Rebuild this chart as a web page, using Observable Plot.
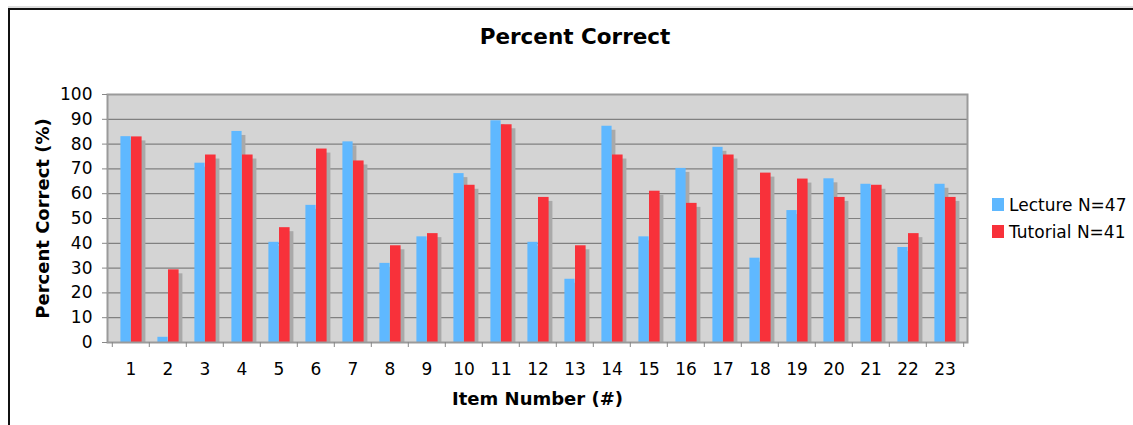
<!DOCTYPE html>
<html>
<head>
<meta charset="utf-8">
<script src="https://cdn.jsdelivr.net/npm/d3@7"></script>
<script src="https://cdn.jsdelivr.net/npm/@observablehq/plot@0.6"></script>
<style>
  html, body { margin: 0; padding: 0; background: white; }
  #wrap { position: relative; width: 1133px; height: 425px; overflow: hidden; font-family: "DejaVu Sans", Verdana, sans-serif; }
  #chart { position: absolute; left: 0; top: 0; }
  #frame { position: absolute; left: 8px; top: 8px; width: 1200px; height: 500px; border-left: 2px solid #111; border-top: 2px solid #111; box-sizing: border-box; }
  #frame2 { position: absolute; left: 8px; top: 6px; width: 1200px; height: 2px; background: #dedede; }
  #title { position: absolute; left: 375px; width: 400px; top: 25.5px; text-align: center; font-size: 21.5px; line-height: 22px; font-weight: bold; color: #000; }
  .lg-sw { position: absolute; width: 12.5px; height: 13px; }
  .lg-tx { position: absolute; font-size: 17px; line-height: 17px; color: #000; white-space: nowrap; }
</style>
</head>
<body>
<div id="wrap">
  <div id="chart"></div>
  <div id="frame2"></div>
  <div id="frame"></div>
  <div id="title"></div>
  <div id="legend"></div>
</div>
<script>
const titleText = "Percent Correct";
const xTitle = "Item Number (#)";
const yTitle = "Percent Correct (%)";
const items = [1, 2, 3, 4, 5, 6, 7, 8, 9, 10, 11, 12, 13, 14, 15, 16, 17, 18, 19, 20, 21, 22, 23];
const seriesNames = ["Lecture N=47", "Tutorial N=41"];
const seriesColors = ["#5fb8ff", "#f8313a"];
const lecture = [83.0, 2.1, 72.3, 85.1, 40.4, 55.3, 80.9, 31.9, 42.6, 68.1, 89.4, 40.4, 25.5, 87.2, 42.6, 70.2, 78.7, 34.0, 53.2, 66.0, 63.8, 38.3, 63.8];
const tutorial = [82.9, 29.3, 75.6, 75.6, 46.3, 78.0, 73.2, 39.0, 43.9, 63.4, 87.8, 58.5, 39.0, 75.6, 61.0, 56.1, 75.6, 68.3, 65.9, 58.5, 63.4, 43.9, 58.5];
const yTicks = [0, 10, 20, 30, 40, 50, 60, 70, 80, 90, 100];

const lec = items.map((d, i) => ({item: d, value: lecture[i]}));
const tut = items.map((d, i) => ({item: d, value: tutorial[i]}));

const lecInset = {insetLeft: 8.4, insetRight: 18.4};
const tutInset = {insetLeft: 19, insetRight: 7.4};
const shadow = "#a9a9a9";
const halfBand = 860 / 23 / 2;

const chart = Plot.plot({
  width: 1133,
  height: 425,
  marginLeft: 107,
  marginRight: 166,
  marginTop: 94,
  marginBottom: 83,
  style: {fontFamily: "DejaVu Sans, Verdana, sans-serif", color: "#000", background: "transparent"},
  x: {type: "band", domain: items, padding: 0},
  y: {domain: [0, 100]},
  marks: [
    Plot.frame({fill: "#d4d4d4"}),
    Plot.gridY(yTicks.slice(1, -1), {stroke: "#808080", strokeOpacity: 1, strokeWidth: 1.2}),
    Plot.barY(lec, {x: "item", y: "value", fill: shadow, dx: 3.8, insetTop: 4, ...lecInset}),
    Plot.barY(tut, {x: "item", y: "value", fill: shadow, dx: 3.8, insetTop: 4, ...tutInset}),
    Plot.barY(lec, {x: "item", y: "value", fill: seriesColors[0], ...lecInset}),
    Plot.barY(tut, {x: "item", y: "value", fill: seriesColors[1], ...tutInset}),
    Plot.frame({stroke: "#9a9a9a", strokeWidth: 2}),
    Plot.axisY({ticks: yTicks, tickSize: 5, tickPadding: 10, fontSize: 17, stroke: "#888", color: "#000", label: null}),
    Plot.axisX({ticks: items, tickSize: 5, stroke: "#888", dx: -halfBand, tickFormat: () => "", label: null}),
    Plot.axisX({ticks: [items[items.length - 1]], tickSize: 5, stroke: "#888", dx: halfBand, tickFormat: () => "", label: null}),
    Plot.axisX({ticks: items, tickSize: 0, tickPadding: 20, fontSize: 17, color: "#000", label: null}),
    Plot.text([yTitle], {frameAnchor: "left", textAnchor: "middle", text: d => d, rotate: -90, dx: -64.5, fontSize: 18, fontWeight: "bold"}),
    Plot.text([xTitle], {frameAnchor: "bottom", textAnchor: "middle", text: d => d, dy: 62, fontSize: 18, fontWeight: "bold"})
  ]
});
document.getElementById("chart").appendChild(chart);
document.getElementById("title").textContent = titleText;

const legend = document.getElementById("legend");
const swTops = [198, 224.5];
const txTops = [197, 224];
seriesNames.forEach((name, i) => {
  const sw = document.createElement("div");
  sw.className = "lg-sw";
  sw.style.left = "991.7px";
  sw.style.top = swTops[i] + "px";
  sw.style.background = seriesColors[i];
  legend.appendChild(sw);
  const tx = document.createElement("div");
  tx.className = "lg-tx";
  tx.style.left = "1009px";
  tx.style.top = txTops[i] + "px";
  tx.textContent = name;
  legend.appendChild(tx);
});
</script>
</body>
</html>
